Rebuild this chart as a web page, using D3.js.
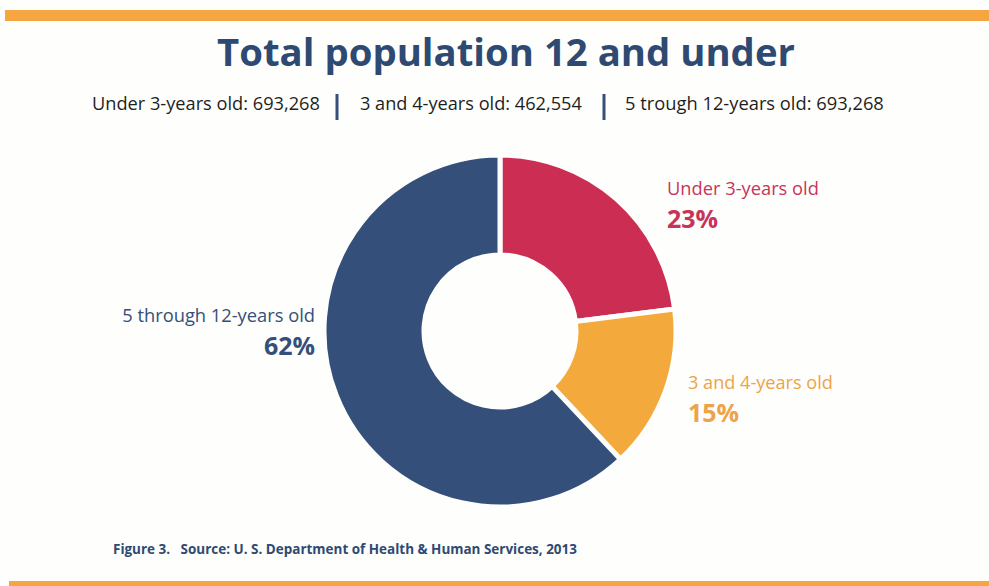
<!DOCTYPE html>
<html>
<head>
<meta charset="utf-8">
<script src="https://cdn.jsdelivr.net/npm/d3@7"></script>
<style>
  html, body { margin: 0; padding: 0; background: #fefefc; }
  svg { display: block; }
</style>
</head>
<body>
<svg id="chart" width="989" height="586"></svg>
<script>
// Age groups and their share of the population (percent)
const categories = ["Under 3-years old", "3 and 4-years old", "5 through 12-years old"];
const percents = [23, 15, 62];
const colors = ["#cc2e53", "#f4a93c", "#34507a"];
const labelColors = ["#c83459", "#eda347", "#34507a"];

// Head-count summary shown under the title
const summaryLabels = ["Under 3-years old: 693,268", "3 and 4-years old: 462,554", "5 trough 12-years old: 693,268"];

const title = "Total population 12 and under";
const footnote = "Figure 3.   Source: U. S. Department of Health & Human Services, 2013";

const svg = d3.select("#chart");
const W = 989, H = 586;
const font = "'Open Sans', 'Noto Sans', sans-serif";

// Orange rules at top and bottom
svg.append("rect").attr("x", 5).attr("y", 10).attr("width", W - 5).attr("height", 11).attr("fill", "#f5a640");
svg.append("rect").attr("x", 9).attr("y", 581).attr("width", W - 9).attr("height", 5).attr("fill", "#f5a640");

// Fit a text element to a target width by adjusting font size
function fitWidth(sel, target) {
  const fs = parseFloat(sel.attr("font-size"));
  const w = sel.node().getComputedTextLength();
  sel.attr("font-size", fs * target / w);
}

// Title
const t = svg.append("text")
  .attr("x", 506).attr("y", 66)
  .attr("text-anchor", "middle")
  .attr("font-family", font)
  .attr("font-weight", 700)
  .attr("font-size", 38)
  .attr("fill", "#2f4a72")
  .text(title);
fitWidth(t, 578);

// Summary line with separators
const summaryX = [92, 360, 625];
const summaryW = [228, 222, 259];
summaryLabels.forEach((s, i) => {
  const el = svg.append("text")
    .attr("x", summaryX[i]).attr("y", 110)
    .attr("font-family", font)
    .attr("font-size", 16)
    .attr("fill", "#1e1e1e")
    .text(s);
  fitWidth(el, summaryW[i]);
});
[337, 604].forEach(x => {
  svg.append("rect").attr("x", x - 1.5).attr("y", 94).attr("width", 3).attr("height", 26).attr("fill", "#34507a");
});

// Donut
const cx = 500, cy = 331, rOuter = 176, rInner = 76;
const pie = d3.pie().sort(null).value(d => d)(percents);
const arc = d3.arc().innerRadius(rInner).outerRadius(rOuter);
const g = svg.append("g").attr("transform", `translate(${cx},${cy})`);
g.selectAll("path")
  .data(pie)
  .join("path")
  .attr("d", arc)
  .attr("fill", (d, i) => colors[i])
  .attr("stroke", "#fefefc")
  .attr("stroke-width", 5)
  .attr("stroke-linejoin", "miter");

// Slice labels: name on the first line, bold percentage below
const labelPos = [
  { x: 667, y: 195, anchor: "start", w: 152 },
  { x: 688, y: 389, anchor: "start", w: 145 },
  { x: 315, y: 322, anchor: "end", w: 193 }
];
categories.forEach((c, i) => {
  const p = labelPos[i];
  const name = svg.append("text")
    .attr("x", p.x).attr("y", p.y)
    .attr("text-anchor", p.anchor)
    .attr("font-family", font)
    .attr("font-size", 18)
    .attr("fill", labelColors[i])
    .text(c);
  fitWidth(name, p.w);
  svg.append("text")
    .attr("x", p.x).attr("y", p.y + 33)
    .attr("text-anchor", p.anchor)
    .attr("font-family", font)
    .attr("font-weight", 700)
    .attr("font-size", 25)
    .attr("fill", labelColors[i])
    .text(d3.format("d")(pie[i].data) + "%");
});

// Source note
const f = svg.append("text")
  .attr("x", 113).attr("y", 554)
  .attr("font-family", font)
  .attr("font-weight", 700)
  .attr("font-size", 13)
  .attr("fill", "#2f4a72")
  .attr("xml:space", "preserve")
  .style("white-space", "pre")
  .text(footnote);
fitWidth(f, 464);
</script>
</body>
</html>
